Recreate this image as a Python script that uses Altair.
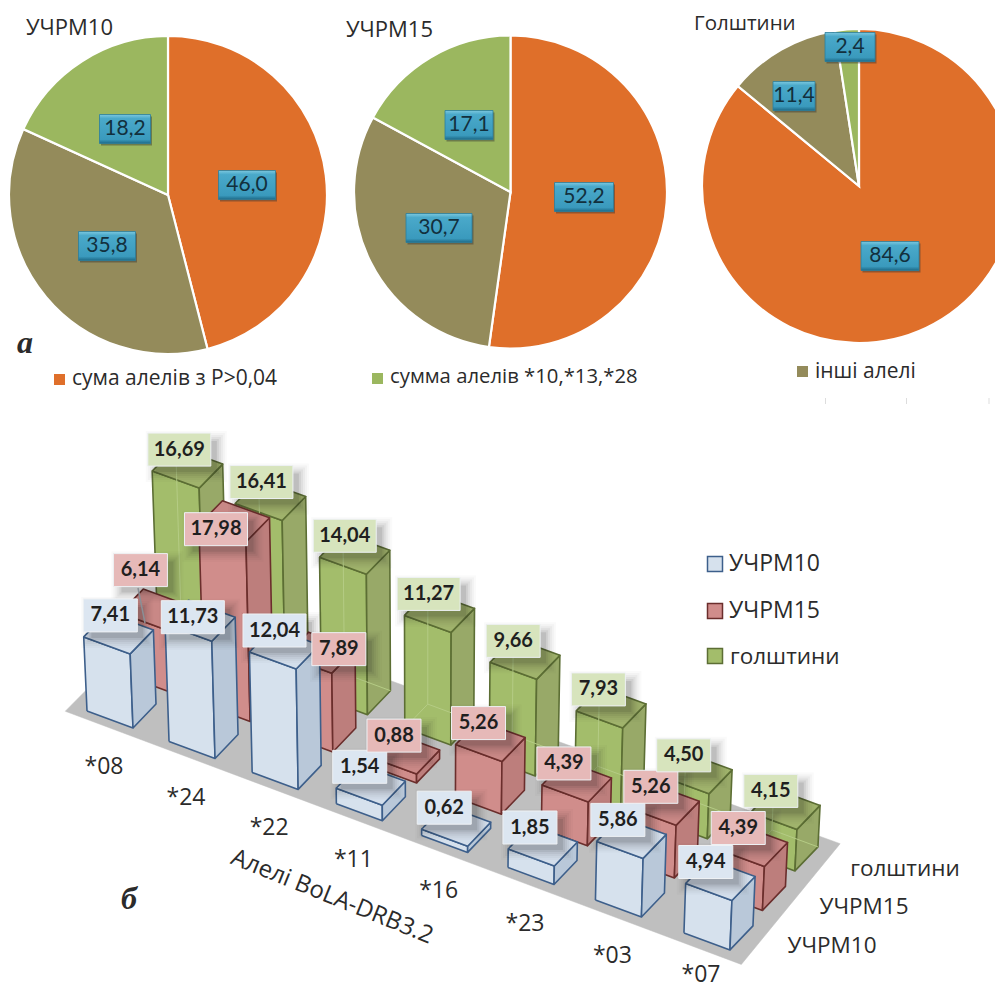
import altair as alt
import pandas as pd

# ---------- data ----------
slice_names = ["сума алелів з Р>0,04", "інші алелі", "сумма алелів *10,*13,*28"]
pie_ucrm10 = [46.0, 35.8, 18.2]
pie_ucrm15 = [52.2, 30.7, 17.1]
pie_holstein = [84.6, 11.4, 2.4]

alleles = ["*08", "*24", "*22", "*11", "*16", "*23", "*03", "*07"]
series_names = ["УЧРМ10", "УЧРМ15", "голштини"]
bars_ucrm10 = [7.41, 11.73, 12.04, 1.54, 0.62, 1.85, 5.86, 4.94]
bars_ucrm15 = [6.14, 17.98, 7.89, 0.88, 5.26, 4.39, 5.26, 4.39]
bars_holstein = [16.69, 16.41, 14.04, 11.27, 9.66, 7.93, 4.50, 4.15]

# ---------- layout / style ----------
W, H = 987, 980
FONT = "Open Sans"
NUMFONT = "Lato"
TXT = "#2b2b2b"
PIE_COL = ["#df6f2a", "#948b5b", "#9bb75f"]
xs = alt.Scale(domain=[8, 8 + W], range=[0, W], nice=False, zero=False)
ys = alt.Scale(domain=[8, 8 + H], range=[0, H], nice=False, zero=False)
X = lambda f="x": alt.X(f"{f}:Q", scale=xs, axis=None)
Y = lambda f="y": alt.Y(f"{f}:Q", scale=ys, axis=None)

STY = [
    dict(front="#d6e1ed", side="#b9c8d9", top="#d3deeb", line="#3d5f8b", label="#dce6f1"),
    dict(front="#d08d8b", side="#bd7e7c", top="#c98886", line="#6b2e2c", label="#e6b9b8"),
    dict(front="#a3bd6b", side="#98a968", top="#a0b36c", line="#5c6e34", label="#d7e4bd"),
]


def ground(u, v):
    return (133 + 81.5 * u + 0.54 * u * u + (35.5 - 0.43 * u) * v,
            728 + 30.3 * u + 0.2 * u * u - (36.5 + 0.43 * u) * v)


def up(p, value):
    h = value * 10
    return (p[0] + h * (p[0] - 425) * 0.000131, p[1] - h)


# ---------- polygons of the 3-D bars, derived from the values ----------
rows = []
pid = 0


def poly(points, fill, stroke, sw=1.6):
    global pid
    pid += 1
    for k, (a, b) in enumerate(points + points[:1]):
        rows.append(dict(id=f"{pid:04d}", seq=k, x=a, y=b, fill=fill, stroke=stroke, sw=sw))


floor = [ground(-0.76, -0.17), ground(7.2, -0.2), ground(7.2, 2.85), ground(-0.76, 2.85)]
poly(floor, "#bfbfbf", "#bfbfbf", 0.5)

bar_values = [bars_ucrm10, bars_ucrm15, bars_holstein]
for s in [2, 1, 0]:
    st = STY[s]
    for i, val in enumerate(bar_values[s]):
        f = ground(i, s)
        l = (f[0] - 46, f[1] - 17)
        r = (f[0] + 23, f[1] - 24)
        b = (f[0] - 23, f[1] - 41)
        tf, tl, tr, tb = up(f, val), up(l, val), up(r, val), up(b, val)
        poly([l, f, tf, tl], st["front"], st["line"])
        poly([f, r, tr, tf], st["side"], st["line"])
        poly([tl, tf, tr, tb], st["top"], st["line"])
        if s == 2:
            for seg in ([b, tb], [l, b], [b, r]):
                pid += 1
                for k, (a, c) in enumerate(seg):
                    rows.append(dict(id=f"{pid:04d}", seq=k, x=a, y=c, fill="none", stroke="#b5cc85", sw=1.0))
polys = pd.DataFrame(rows)
bars_layer = alt.Chart(polys).mark_line(strokeJoin="round").encode(
    x=X(), y=Y(), detail="id:N", order="seq:Q",
    fill=alt.Fill("fill:N", scale=None),
    stroke=alt.Stroke("stroke:N", scale=None),
    strokeWidth=alt.StrokeWidth("sw:Q", scale=None),
)

# ---------- value labels of the bars ----------
label_shift = {(1, 0): (-26, -60), (1, 1): (-30, -12.6), (1, 2): (7, -24), (0, 1): (-19, -24)}
lab = []
for s, vals in enumerate(bar_values):
    for i, val in enumerate(vals):
        top = up(ground(i, s), val)
        dx, dy = label_shift.get((s, i), (-23 + (3.5 - i) * 0.9, -38.5))
        text = f"{val:.2f}".replace(".", ",")
        w = 63 if len(text) == 5 else 54
        lab.append(dict(x=top[0] + dx, y=top[1] + dy, w=w, text=text, fill=STY[s]["label"], s=s, i=i))
lab = pd.DataFrame(lab)
lab["x1"], lab["x2"] = lab.x - lab.w / 2, lab.x + lab.w / 2
lab["y1"], lab["y2"] = lab.y - 16.5, lab.y + 16.5

shadow_layers = []
for grow, op in [(9, 0.025), (7, 0.03), (5, 0.04), (3, 0.05), (1, 0.07), (-1, 0.1)]:
    d = lab.copy()
    d["x1"], d["x2"] = d.x1 + 7 - grow, d.x2 + 7 + grow
    d["y1"], d["y2"] = d.y1 + 7 - grow, d.y2 + 7 + grow
    shadow_layers.append(alt.Chart(d).mark_rect(color="#1c1c1c", opacity=op).encode(
        x=X("x1"), x2="x2:Q", y=Y("y1"), y2="y2:Q"))
label_rect = alt.Chart(lab).mark_rect(stroke="#eef1f4", strokeWidth=1).encode(
    x=X("x1"), x2="x2:Q", y=Y("y1"), y2="y2:Q", fill=alt.Fill("fill:N", scale=None))
label_text = alt.Chart(lab).mark_text(font=NUMFONT, fontWeight="bold", fontSize=20, color="#1f1f1f", baseline="middle").encode(
    x=X(), y=Y(), text="text:N")
leader = alt.Chart(pd.DataFrame(dict(x=[138], y=[588], x2=[145], y2=[623]))).mark_rule(color="#8a8f96", strokeWidth=1.5).encode(
    x=X(), y=Y(), x2="x2:Q", y2="y2:Q")
specks = alt.Chart(pd.DataFrame(dict(x=[825.5, 906.5, 989], y=[398, 398, 398], y2=[404, 404, 404]))).mark_rule(color="#dddddd", strokeWidth=1).encode(
    x=X(), y=Y(), y2="y2:Q")


# ---------- pies ----------
def pie(values, cx, cy, r):
    total = sum(values)
    d = pd.DataFrame(dict(name=slice_names, value=values, share=[v / total for v in values],
                          color=PIE_COL, k=range(3)))
    return alt.Chart(d).mark_arc(radius=r, stroke="white", strokeWidth=2.2).encode(
        theta=alt.Theta("share:Q", stack=True, scale=alt.Scale(domain=[0, 1], range=[0, 6.283185307])),
        order=alt.Order("k:Q"),
        fill=alt.Fill("color:N", scale=None),
        x=alt.value(cx - 8), y=alt.value(cy - 8),
    )


pies = [pie(pie_ucrm10, 168, 195, 159), pie(pie_ucrm15, 510.5, 192, 156.5), pie(pie_holstein, 859, 186, 157)]

# pie value labels
pie_labels = pd.DataFrame([
    ("46,0", 247, 185, 57), ("35,8", 107, 246, 57), ("18,2", 125, 129, 51),
    ("52,2", 584, 197, 59), ("30,7", 439, 228, 66), ("17,1", 469, 125, 48),
    ("84,6", 890, 256, 58), ("11,4", 794, 96, 42), ("2,4", 850, 47, 50),
], columns=["text", "x", "y", "w"])
pie_labels["x1"], pie_labels["x2"] = pie_labels.x - pie_labels.w / 2, pie_labels.x + pie_labels.w / 2
pie_labels["y1"], pie_labels["y2"] = pie_labels.y - 14.5, pie_labels.y + 14.5
pshadow = pie_labels.assign(x1=pie_labels.x1 + 1.5, x2=pie_labels.x2 + 1.5, y1=pie_labels.y1 + 2, y2=pie_labels.y2 + 2)
bevel = alt.Gradient(gradient="linear", x1=0, y1=0, x2=0, y2=1, stops=[
    alt.GradientStop(color="#7cc8df", offset=0), alt.GradientStop(color="#4aa9ca", offset=0.14),
    alt.GradientStop(color="#3a9abd", offset=0.86), alt.GradientStop(color="#1d6a88", offset=1)])
pie_shadow = alt.Chart(pshadow).mark_rect(color="#333333", opacity=0.45).encode(x=X("x1"), x2="x2:Q", y=Y("y1"), y2="y2:Q")
pie_rect = alt.Chart(pie_labels).mark_rect(fill=bevel, stroke="#2b7d9c", strokeWidth=0.8).encode(x=X("x1"), x2="x2:Q", y=Y("y1"), y2="y2:Q")
pie_text = alt.Chart(pie_labels).mark_text(font=NUMFONT, fontSize=21, color="#12303d", baseline="middle").encode(x=X(), y=Y(), text="text:N")


# ---------- free text ----------
def texts(rows_, size, align="center", color=TXT, font=FONT, **kw):
    d = pd.DataFrame(rows_, columns=["text", "x", "y"])
    return alt.Chart(d).mark_text(font=font, fontSize=size, align=align, baseline="middle", color=color, **kw).encode(
        x=X(), y=Y(), text="text:N")


titles = alt.layer(texts([("УЧРМ10", 26, 28), ("УЧРМ15", 346, 30)], 22, "left"), texts([("Голштини", 694, 24)], 20.5, "left"))
legend_top = alt.layer(texts([(slice_names[0], 72, 379)], 21, "left"), texts([(slice_names[2], 390, 377)], 20.3, "left"),
                       texts([(slice_names[1], 815, 372)], 21, "left"))
legend_bar = alt.layer(texts([(series_names[0], 729, 564), (series_names[1], 729, 611)], 23, "left"),
                       texts([(series_names[2], 730, 657)], 22.5, "left"))
panel_a = texts([("а", 25, 343)], 32, font="Liberation Serif", fontWeight="bold", fontStyle="italic")
panel_b = texts([("б", 129, 899)], 32, font="Liberation Serif", fontWeight="bold", fontStyle="italic")

cat_rows = []
for i, a in enumerate(alleles):
    g = ground(i, 0)
    # the last tick label sits at the lower edge: keep it inside the page
    cat_rows.append((a, g[0] - 29, min(g[1] + 39, 975)))
cats = texts(cat_rows, 23)
depth = texts([(series_names[2], 905, 869), (series_names[1], 864, 907), (series_names[0], 832, 946)], 22.5)
axis_title = texts([("Алелі BoLA-DRB3.2", 332, 897)], 24, angle=22)


def squares(rows_, size, stroke=None):
    d = pd.DataFrame(rows_, columns=["x1", "y1", "color"])
    d["x2"], d["y2"] = d.x1 + size, d.y1 + size
    kw = dict(stroke=stroke, strokeWidth=1.5) if stroke else {}
    return alt.Chart(d).mark_rect(**kw).encode(x=X("x1"), x2="x2:Q", y=Y("y1"), y2="y2:Q",
                                               fill=alt.Fill("color:N", scale=None))


sq_top = squares([(54, 374, PIE_COL[0]), (372, 373, PIE_COL[2]), (797, 366, PIE_COL[1])], 11)
sq_bar = alt.layer(*[
    squares([(707.5, y, STY[s]["front"])], 15, STY[s]["line"]) for s, y in enumerate([556.5, 603.5, 648.5])
])

chart = alt.layer(
    *pies, pie_shadow, pie_rect, pie_text, titles, sq_top, legend_top, panel_a, specks,
    bars_layer, *shadow_layers, leader, label_rect, label_text,
    sq_bar, legend_bar, cats, depth, axis_title, panel_b,
).properties(width=W, height=H, padding=0, autosize=alt.AutoSizeParams(type="none")).configure_view(stroke=None)

chart.save("out.html", embed_options={"renderer": "svg", "actions": False})
